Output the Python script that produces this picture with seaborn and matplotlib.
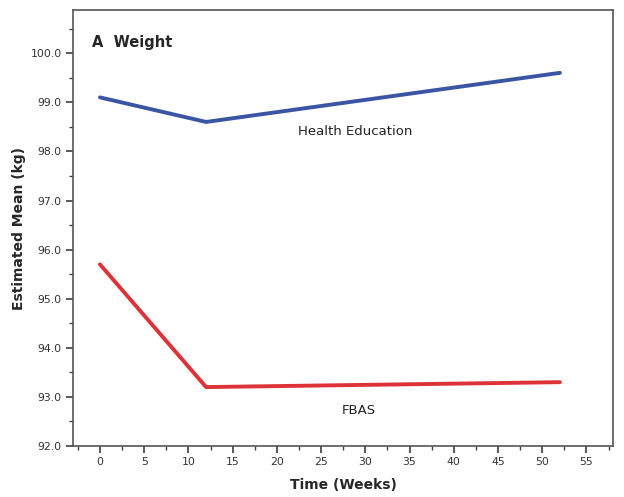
import numpy as np
import pandas as pd
import matplotlib.pyplot as plt
import seaborn as sns
from matplotlib.ticker import MultipleLocator

weeks = [0, 12, 52]
health_education = [99.1, 98.6, 99.6]
fbas = [95.7, 93.2, 93.3]

df = pd.DataFrame({
    'week': weeks * 2,
    'mean': health_education + fbas,
    'group': ['Health Education'] * 3 + ['FBAS'] * 3,
})

sns.set_theme(style="ticks")
plt.rcParams['font.family'] = ['DejaVu Sans']

fig = plt.figure(figsize=(6.24, 4.97), dpi=100)
ax = fig.add_axes([73 / 624, 1 - 446 / 497, 540 / 624, 436 / 497])

sns.lineplot(data=df, x='week', y='mean', hue='group',
             palette={'Health Education': '#3a55a4', 'FBAS': '#dd3237'},
             linewidth=2.8, legend=False, ax=ax)

ax.set_xlim(-3.05, 58)
ax.set_ylim(92.0, 100.88)
ax.xaxis.set_major_locator(MultipleLocator(5))
ax.xaxis.set_minor_locator(MultipleLocator(2.5))
ax.yaxis.set_major_locator(MultipleLocator(1))
ax.yaxis.set_minor_locator(MultipleLocator(0.5))
ax.yaxis.set_major_formatter(plt.FuncFormatter(lambda v, p: f"{v:.1f}"))

for s in ax.spines.values():
    s.set_color('#555555')
    s.set_linewidth(1.2)
ax.tick_params(axis='both', which='major', length=5, color='#444444', labelsize=7.8,
               labelcolor='#333333', direction='out', pad=3)
ax.tick_params(axis='both', which='minor', length=3, color='#444444', direction='out')

ax.set_xlabel('Time (Weeks)', fontsize=10, fontweight='bold', labelpad=8)
ax.set_ylabel('Estimated Mean (kg)', fontsize=10, fontweight='bold', labelpad=3)

ax.text(-0.9, 100.22, 'A  Weight', fontsize=10.5, fontweight='bold', va='center', ha='left')
ax.text(28.9, 98.41, 'Health Education', fontsize=9.5, va='center', ha='center', color='#222222')
ax.text(29.3, 92.73, 'FBAS', fontsize=9.5, va='center', ha='center', color='#222222')

plt.savefig('out.png', dpi=100)
